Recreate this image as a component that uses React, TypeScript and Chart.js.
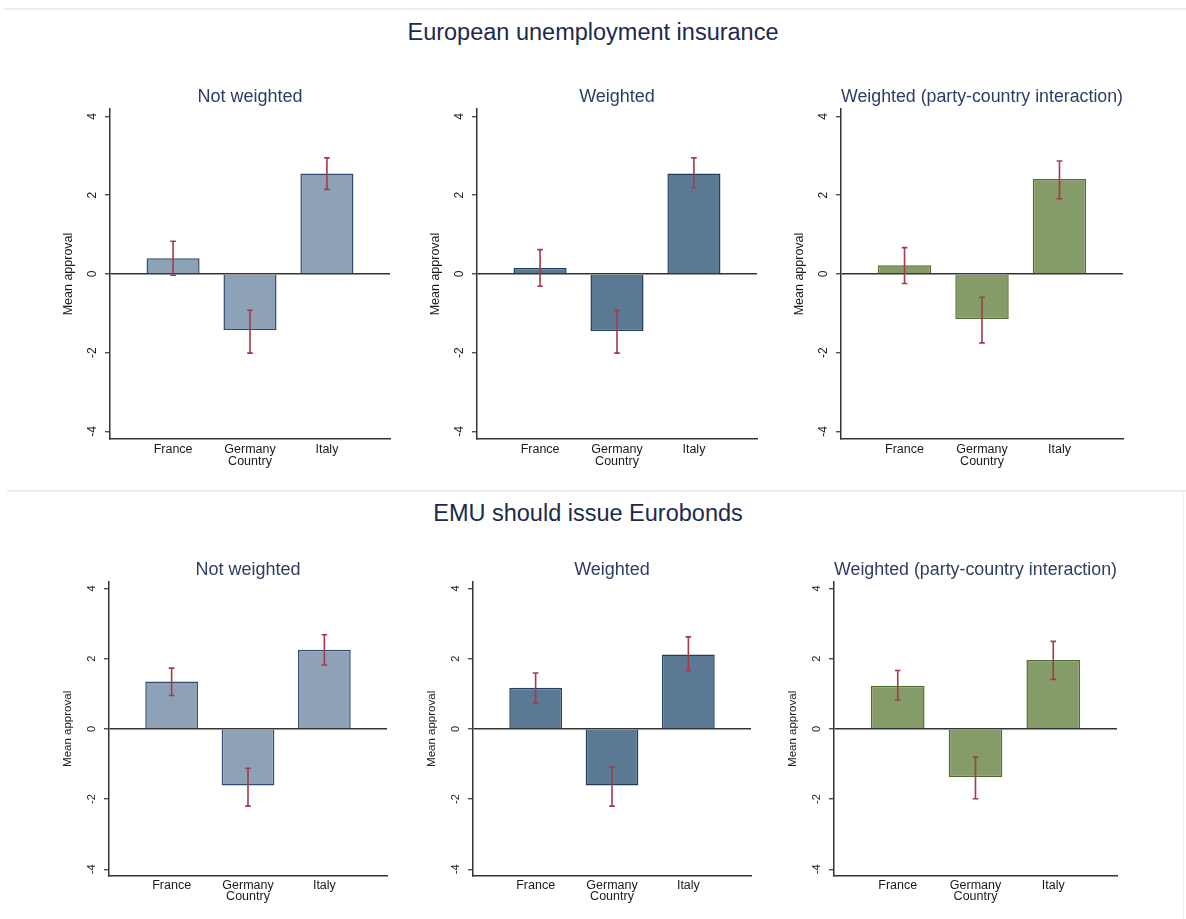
import React, { useEffect, useRef } from 'react';
import { Chart, registerables } from 'chart.js';

Chart.register(...registerables);

// ---------- data ----------
const countries = ['France', 'Germany', 'Italy'];
const xAxisTitle = 'Country';
const yAxisTitle = 'Mean approval';
const yTickValues = [-4, -2, 0, 2, 4];
const yTickLabels = ['-4', '-2', '0', '2', '4'];

const sectionTitles = ['European unemployment insurance', 'EMU should issue Eurobonds'];
const panelTitles = ['Not weighted', 'Weighted', 'Weighted (party-country interaction)'];

// European unemployment insurance
const euiNotWeightedMean = [0.4, -1.42, 2.55];
const euiNotWeightedLow = [-0.03, -2.01, 2.15];
const euiNotWeightedHigh = [0.83, -0.92, 2.95];

const euiWeightedMean = [0.15, -1.45, 2.55];
const euiWeightedLow = [-0.31, -2.01, 2.19];
const euiWeightedHigh = [0.62, -0.92, 2.95];

const euiPartyMean = [0.22, -1.14, 2.41];
const euiPartyLow = [-0.24, -1.75, 1.91];
const euiPartyHigh = [0.67, -0.59, 2.87];

// EMU should issue Eurobonds
const emuNotWeightedMean = [1.35, -1.61, 2.25];
const emuNotWeightedLow = [0.95, -2.2, 1.82];
const emuNotWeightedHigh = [1.73, -1.12, 2.68];

const emuWeightedMean = [1.17, -1.61, 2.12];
const emuWeightedLow = [0.74, -2.2, 1.66];
const emuWeightedHigh = [1.59, -1.09, 2.62];

const emuPartyMean = [1.23, -1.37, 1.96];
const emuPartyLow = [0.82, -1.99, 1.41];
const emuPartyHigh = [1.66, -0.8, 2.49];

// ---------- styles / layout ----------
const FONT = '"Liberation Sans", Arial, Helvetica, sans-serif';
const AXIS_COLOR = '#333333';
const ERR_COLOR = '#a33b48';
const TEXT_COLOR = '#1a1a1a';
const TITLE_COLOR = '#2e3d64';
const MAIN_TITLE_COLOR = '#1b2a4e';
const FILLS = [
  { fill: '#8da2b7', border: '#2f4e70' },
  { fill: '#5b7895', border: '#223f60' },
  { fill: '#869c68', border: '#4f6d33' },
];

const Y_AXIS_W = 55;
const TITLE_SIZE = 18;
const TITLE_LH = TITLE_SIZE * 1.2;
const X_FONT = 12.5;
const X_LH = X_FONT * 1.2;

const ROWS = [
  { titleCy: 96.7, plotTop: 109, plotBottom: 439, tickDy: 11, axisTitleDy: 22.5, yFont: 12.5, tickFont: 12, mainCy: 32 },
  { titleCy: 570, plotTop: 581.7, plotBottom: 876, tickDy: 10, axisTitleDy: 21, yFont: 11.5, tickFont: 11, mainCy: 513 },
];
const COLS = [
  [[110, 390], [477, 757], [841, 1123]],
  [[109, 387], [473, 751], [834, 1117]],
];
const MAIN_CX = [593, 588];

type Spec = {
  row: number;
  col: number;
  title: string;
  mean: number[];
  low: number[];
  high: number[];
};

const specs: Spec[] = [
  { row: 0, col: 0, title: panelTitles[0], mean: euiNotWeightedMean, low: euiNotWeightedLow, high: euiNotWeightedHigh },
  { row: 0, col: 1, title: panelTitles[1], mean: euiWeightedMean, low: euiWeightedLow, high: euiWeightedHigh },
  { row: 0, col: 2, title: panelTitles[2], mean: euiPartyMean, low: euiPartyLow, high: euiPartyHigh },
  { row: 1, col: 0, title: panelTitles[0], mean: emuNotWeightedMean, low: emuNotWeightedLow, high: emuNotWeightedHigh },
  { row: 1, col: 1, title: panelTitles[1], mean: emuWeightedMean, low: emuWeightedLow, high: emuWeightedHigh },
  { row: 1, col: 2, title: panelTitles[2], mean: emuPartyMean, low: emuPartyLow, high: emuPartyHigh },
];

function BarPanel({ spec }: { spec: Spec }) {
  const ref = useRef<HTMLCanvasElement | null>(null);
  const R = ROWS[spec.row];
  const [axisX, plotRight] = COLS[spec.row][spec.col];
  const canvasLeft = Math.round(axisX) - Y_AXIS_W;
  const canvasTop = Math.round(R.titleCy - TITLE_LH / 2 - 4);
  const rightPad = 12;
  const width = Math.round(plotRight) + rightPad - canvasLeft;
  const height = Math.round(R.plotBottom + R.axisTitleDy + X_LH / 2 + 3 - canvasTop);
  const xAxisH = height - (R.plotBottom - canvasTop);
  const titlePadTop = R.titleCy - TITLE_LH / 2 - canvasTop;
  const titlePadBottom = R.plotTop - R.titleCy - TITLE_LH / 2;
  const xTitlePadBottom = xAxisH - R.axisTitleDy - X_LH / 2;
  const yTitleLH = R.yFont * 1.2;
  const yTitlePadTop = axisX - 41 - canvasLeft - yTitleLH / 2;

  useEffect(() => {
    const canvas = ref.current;
    if (!canvas) return;
    const colors = FILLS[spec.col];

    const errorBars = {
      id: 'errorBars',
      afterDatasetsDraw(chart: any) {
        const { ctx } = chart;
        const xs = chart.scales.x;
        const ys = chart.scales.y;
        ctx.save();
        ctx.strokeStyle = ERR_COLOR;
        ctx.lineWidth = 1.6;
        spec.low.forEach((lo: number, i: number) => {
          const px = xs.getPixelForValue(i + 1);
          const y1 = ys.getPixelForValue(lo);
          const y2 = ys.getPixelForValue(spec.high[i]);
          const cap = 2.8;
          ctx.beginPath();
          ctx.moveTo(px, y1);
          ctx.lineTo(px, y2);
          ctx.moveTo(px - cap, y1);
          ctx.lineTo(px + cap, y1);
          ctx.moveTo(px - cap, y2);
          ctx.lineTo(px + cap, y2);
          ctx.stroke();
        });
        ctx.restore();
      },
    };

    const rotatedTicks = {
      id: 'rotatedTicks',
      afterDraw(chart: any) {
        const { ctx } = chart;
        const ys = chart.scales.y;
        ctx.save();
        ctx.fillStyle = TEXT_COLOR;
        ctx.font = `${R.tickFont}px ${FONT}`;
        ctx.textAlign = 'center';
        ctx.textBaseline = 'middle';
        yTickValues.forEach((v, i) => {
          const py = ys.getPixelForValue(v);
          ctx.save();
          ctx.translate(ys.right - 17.5, py);
          ctx.rotate(-Math.PI / 2);
          ctx.fillText(yTickLabels[i], 0, 0);
          ctx.restore();
        });
        ctx.restore();
      },
    };

    const chart = new Chart(canvas, {
      type: 'bar',
      data: {
        datasets: [
          {
            data: spec.mean.map((v, i) => ({ x: i + 1, y: v })) as any,
            backgroundColor: colors.fill,
            borderColor: colors.border,
            borderWidth: 1.5,
            barPercentage: 0.69,
            categoryPercentage: 1,
          },
        ],
      },
      options: {
        animation: false,
        responsive: false,
        events: [],
        layout: { padding: { left: 0, right: rightPad, top: 0, bottom: 0 } },
        plugins: {
          legend: { display: false },
          tooltip: { enabled: false },
          title: {
            display: true,
            text: spec.title,
            fullSize: false,
            color: TITLE_COLOR,
            font: { family: FONT, size: TITLE_SIZE, weight: 'normal', lineHeight: 1.2 },
            padding: { top: titlePadTop, bottom: titlePadBottom },
          },
        },
        scales: {
          x: {
            type: 'linear',
            min: 0.18,
            max: 3.82,
            offset: false,
            afterBuildTicks: (s: any) => {
              s.ticks = countries.map((_, i) => ({ value: i + 1 }));
            },
            afterFit: (s: any) => {
              s.height = xAxisH;
            },
            grid: { display: true, offset: false, drawOnChartArea: false, drawTicks: false },
            border: { display: true, color: AXIS_COLOR, width: 1.5 },
            ticks: {
              padding: R.tickDy - X_LH / 2,
              autoSkip: false,
              maxRotation: 0,
              minRotation: 0,
              color: TEXT_COLOR,
              font: { family: FONT, size: X_FONT, lineHeight: 1.2 },
              callback: (_v: any, i: number) => countries[i],
            },
            title: {
              display: true,
              text: xAxisTitle,
              color: TEXT_COLOR,
              font: { family: FONT, size: X_FONT, lineHeight: 1.2 },
              padding: { top: 0, bottom: xTitlePadBottom },
            },
          },
          y: {
            type: 'linear',
            min: -4.19,
            max: 4.19,
            afterBuildTicks: (s: any) => {
              s.ticks = yTickValues.map((v) => ({ value: v }));
            },
            afterFit: (s: any) => {
              s.width = Y_AXIS_W;
            },
            grid: {
              display: true,
              drawOnChartArea: true,
              drawTicks: true,
              tickLength: 5,
              color: (ctx: any) => (ctx.tick && ctx.tick.value === 0 ? AXIS_COLOR : 'rgba(0,0,0,0)'),
              tickColor: AXIS_COLOR,
              lineWidth: 1.5,
              tickWidth: 1.2,
            },
            border: { display: true, color: AXIS_COLOR, width: 1.5 },
            ticks: { display: false },
            title: {
              display: true,
              text: yAxisTitle,
              color: TEXT_COLOR,
              font: { family: FONT, size: R.yFont, lineHeight: 1.2 },
              padding: { top: yTitlePadTop, bottom: 0 },
            },
          },
        },
      } as any,
      plugins: [errorBars, rotatedTicks],
    });
    return () => chart.destroy();
  }, []);

  return (
    <canvas
      ref={ref}
      width={width}
      height={height}
      style={{ position: 'absolute', left: canvasLeft, top: canvasTop, width, height }}
    />
  );
}

export default function App() {
  return (
    <div
      style={{
        position: 'absolute',
        left: 0,
        top: 0,
        width: 1186,
        height: 919,
        background: '#ffffff',
        overflow: 'hidden',
        fontFamily: FONT,
      }}
    >
      <div style={{ position: 'absolute', left: 4, top: 8, width: 1182, height: 2, background: '#e6eeee' }} />
      <div style={{ position: 'absolute', left: 7, top: 490, width: 1179, height: 2, background: '#e6eeee' }} />
      <div style={{ position: 'absolute', left: 1183, top: 491, width: 1, height: 428, background: '#eef3f3' }} />
      {sectionTitles.map((t, i) => (
        <div
          key={t}
          style={{
            position: 'absolute',
            left: MAIN_CX[i] - 300,
            top: ROWS[i].mainCy - 14,
            width: 600,
            textAlign: 'center',
            fontSize: 23.5,
            lineHeight: '28px',
            color: MAIN_TITLE_COLOR,
            whiteSpace: 'nowrap',
          }}
        >
          {t}
        </div>
      ))}
      {specs.map((s) => (
        <BarPanel key={`${s.row}-${s.col}`} spec={s} />
      ))}
    </div>
  );
}
